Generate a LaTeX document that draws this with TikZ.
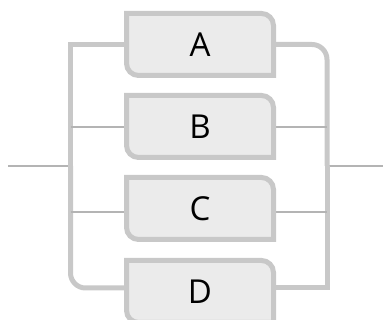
\documentclass[tikz,border=0pt]{standalone}
\usepackage{fontspec}
\setmainfont{Open Sans}
\usetikzlibrary{positioning, backgrounds}

\definecolor{railgray}{HTML}{C8C8C8}
\definecolor{wiregray}{HTML}{B4B4B4}
\definecolor{termfill}{HTML}{EBEBEB}

\begin{document}
\begin{tikzpicture}[
    x=1pt, y=1pt,
    node distance=20pt,
    term/.style={minimum width=147pt, minimum height=62pt, inner sep=0pt, outer sep=0pt, font=\fontsize{33}{36}\selectfont},
    termline/.style={draw=railgray, fill=termfill, line width=5pt, line join=miter},
    rail/.style={railgray, line width=5pt, line join=miter},
    wire/.style={wiregray, line width=2pt}
]
\useasboundingbox (0,0) rectangle (384,320);

% === TERMINALS ===
\node[term] (a) at (200, 275.5) {A};
\node[term, below=of a] (b) {B};
\node[term, below=of b] (c) {C};
\node[term, below=of c, yshift=-1pt] (d) {D};

% === RAIL POINTS ===
\coordinate (in) at (8, 154);
\coordinate (split) at (70.5, 154);
\coordinate (join) at (327, 154);
\coordinate (out) at (383, 154);
\coordinate (lb) at (70.5, 193);
\coordinate (lc) at (70.5, 108);
\coordinate (ld) at (70.5, 32);

\begin{scope}[on background layer]
    % entry and exit
    \draw[wire] (in) -- (split);
    \draw[wire] (join) -- (out);

    % left rail: square at top, round at bottom
    \draw[rail] (a.west) -- (a.west -| split) -- (split);
    \draw[rail, rounded corners=15pt] (split) -- (ld) -- (d.west |- ld);

    % right rail: round at top, square at bottom
    \draw[rail, rounded corners=15pt] (a.east) -- (a.east -| join) -- (join);
    \draw[rail] (join) -- (ld -| join) -- (d.east |- ld);

    % middle branches
    \draw[wire] (lb) -- (lb -| b.west);
    \draw[wire] (b.east |- lb) -- (lb -| join);
    \draw[wire] (lc) -- (lc -| c.west);
    \draw[wire] (c.east |- lc) -- (lc -| join);

    % terminal outlines, rounded at NE and SW
    \foreach \t in {a, b, c, d}
        \draw[termline] (\t.north west) -- ([xshift=-12pt]\t.north east) arc[start angle=90, end angle=0, radius=12pt]
            -- (\t.south east) -- ([xshift=12pt]\t.south west) arc[start angle=270, end angle=180, radius=12pt] -- cycle;
\end{scope}

\end{tikzpicture}
\end{document}
